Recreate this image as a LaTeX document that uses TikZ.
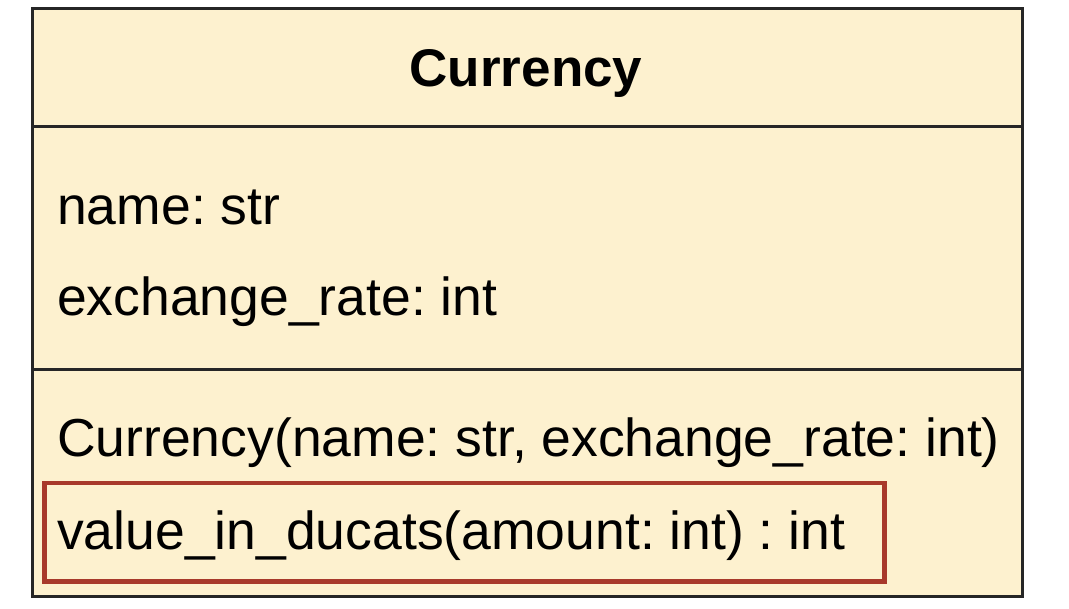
\documentclass[tikz,border=0pt]{standalone}
\usepackage{fontspec}
\setmainfont{Liberation Sans}
\frenchspacing
\definecolor{classfill}{HTML}{FDF1CF}
\definecolor{hilite}{HTML}{A8392B}
\begin{document}
\begin{tikzpicture}[x=1pt,y=-1pt,
  member/.style={anchor=base west,inner sep=0pt,font=\fontsize{53.5}{60}\selectfont},
  title/.style={anchor=base,inner sep=0pt,font=\fontsize{53}{60}\selectfont\bfseries},
  frame/.style={draw=black!85,line width=3pt},
  mark box/.style={draw=hilite,line width=4.5pt}]
\useasboundingbox (0,0) rectangle (1069,609);
% class box with its three compartments
\node[frame,fill=classfill,minimum width=990pt,minimum height=588pt,anchor=north west,inner sep=0pt] (cls) at (31,7) {};
\coordinate (d1l) at (31,127); \coordinate (d1r) at (1021,127);
\coordinate (d2l) at (31,370); \coordinate (d2r) at (1021,370);
\draw[frame] (d1l) -- (d1r);
\draw[frame] (d2l) -- (d2r);
% texts
\node[title] (name) at (526,87) {Currency};
\node[member] (a1) at (57,225) {name: str};
\node[member] (a2) at (57,316) {exchange\_rate: int};
\node[member] (m1) at (57,457) {Currency(name: str, exchange\_rate: int)};
\node[member] (m2) at (57,550) {value\_in\_ducats(amount: int) : int};
% highlight round the second method
\node[mark box,anchor=north west,minimum width=840pt,minimum height=98pt,inner sep=0pt] (hl) at (42,481) {};
\end{tikzpicture}
\end{document}
